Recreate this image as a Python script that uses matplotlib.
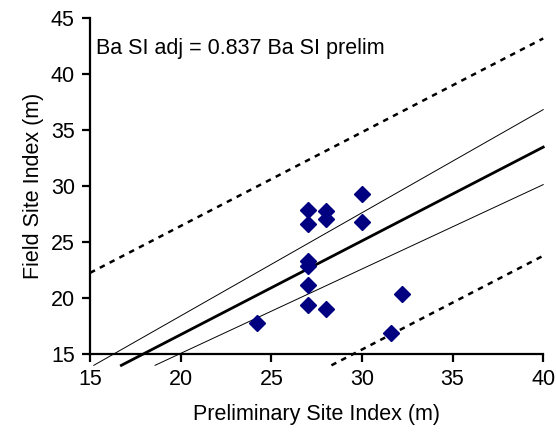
import numpy as np
import matplotlib.pyplot as plt

plt.rcParams['font.family'] = ['Liberation Sans', 'DejaVu Sans']

# Preliminary vs field site index observations
prelim_si = [24.2, 27.0, 27.0, 27.0, 27.0, 27.0, 27.0, 28.0, 28.0, 28.0, 30.0, 30.0, 32.2, 31.6]
field_si = [17.8, 27.9, 26.6, 23.3, 22.9, 21.2, 19.4, 27.8, 27.1, 19.0, 29.3, 26.8, 20.4, 16.9]

slope = 0.837          # regression through origin
band_pct = 0.10        # +/- 10 % lines
pred_offset = 9.7      # prediction limits

fig = plt.figure(figsize=(5.56, 4.41), dpi=100)
ax = fig.add_axes([0.162, 0.197, 0.815, 0.762])


def draw_line(m, b, **kw):
    # start where the line drops just below the x axis, or at the y axis
    x0 = max(15.0, (14.0 - b) / m)
    xs = np.array([x0, 40.0])
    ax.plot(xs, m * xs + b, clip_on=False, **kw)


draw_line(slope, 0, color='black', lw=2.0, zorder=3)
draw_line(slope * (1 + band_pct), 0, color='black', lw=0.7, zorder=3)
draw_line(slope * (1 - band_pct), 0, color='black', lw=0.7, zorder=3)
draw_line(slope, pred_offset, color='black', lw=1.8, ls=(0, (2.2, 2.2)), zorder=3)
draw_line(slope, -pred_offset, color='black', lw=1.8, ls=(0, (2.2, 2.2)), zorder=3)

ax.plot(prelim_si, field_si, 'D', color='#000080', markersize=8.2, zorder=4,
        clip_on=False)

ax.set_xlim(15, 40)
ax.set_ylim(15, 45)
ax.set_xticks(range(15, 41, 5))
ax.set_yticks(range(15, 46, 5))

for side in ('top', 'right'):
    ax.spines[side].set_visible(False)
for side in ('left', 'bottom'):
    ax.spines[side].set_linewidth(1.6)
ax.tick_params(direction='out', length=6, width=1.6, labelsize=15.5, pad=5)

ax.set_xlabel('Preliminary Site Index (m)', fontsize=15.5, labelpad=10)
ax.set_ylabel('Field Site Index (m)', fontsize=15.5, labelpad=5)

ax.text(0.012, 0.91, 'Ba SI adj = 0.837 Ba SI prelim', transform=ax.transAxes,
        fontsize=15.5, va='center', ha='left')

fig.savefig('out.png', dpi=100)
